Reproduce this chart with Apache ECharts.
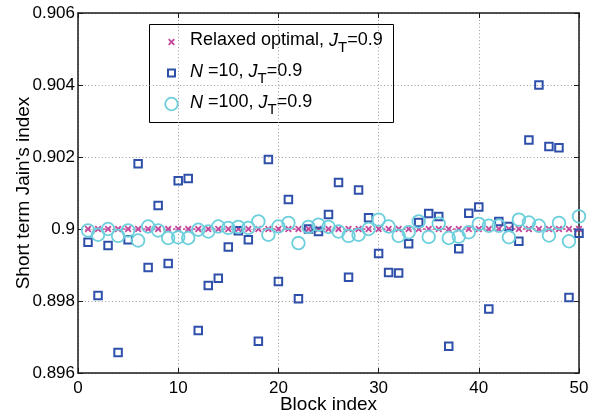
<!DOCTYPE html>
<html>
<head>
<meta charset="utf-8">
<script src="https://cdn.jsdelivr.net/npm/echarts@6/dist/echarts.min.js"></script>
<style>
  html, body { margin: 0; padding: 0; background: #fff; }
  #chart { width: 596px; height: 417px; }
</style>
</head>
<body>
<div id="chart"></div>
<script>
// Block indices on the horizontal axis
const blockIndex = [1, 2, 3, 4, 5, 6, 7, 8, 9, 10,
  11, 12, 13, 14, 15, 16, 17, 18, 19, 20,
  21, 22, 23, 24, 25, 26, 27, 28, 29, 30,
  31, 32, 33, 34, 35, 36, 37, 38, 39, 40,
  41, 42, 43, 44, 45, 46, 47, 48, 49, 50];

// Relaxed optimal short-term Jain's index (target J_T = 0.9)
const relaxedOptimal = [0.9, 0.9, 0.9, 0.9, 0.9, 0.9, 0.9, 0.9, 0.9, 0.9,
  0.9, 0.9, 0.9, 0.9, 0.9, 0.9, 0.9, 0.9, 0.9, 0.9,
  0.9, 0.9, 0.9, 0.9, 0.9, 0.9, 0.9, 0.9, 0.9, 0.9,
  0.9, 0.9, 0.9, 0.9, 0.9, 0.9, 0.9, 0.9, 0.9, 0.9,
  0.9, 0.9, 0.9, 0.9, 0.9, 0.9, 0.9, 0.9, 0.9, 0.9];

// N = 10 users
const jainN10 = [0.89963, 0.89815, 0.89954, 0.89657, 0.89970, 0.90181, 0.89893, 0.90065, 0.89904, 0.90134,
  0.90140, 0.89718, 0.89843, 0.89863, 0.89950, 0.89995, 0.89970, 0.89688, 0.90193, 0.89854,
  0.90082, 0.89806, 0.90000, 0.89993, 0.90040, 0.90129, 0.89866, 0.90108, 0.90031, 0.89932,
  0.89879, 0.89878, 0.89959, 0.90018, 0.90043, 0.90035, 0.89674, 0.89945, 0.90044, 0.90061,
  0.89778, 0.90021, 0.90007, 0.89966, 0.90247, 0.90400, 0.90229, 0.90226, 0.89810, 0.89988];

// N = 100 users
const jainN100 = [0.89996, 0.89984, 0.90000, 0.89981, 0.89996, 0.89968, 0.90007, 0.89996, 0.89975, 0.89977,
  0.89975, 0.89998, 0.89993, 0.90007, 0.90003, 0.90006, 0.90003, 0.90021, 0.89984, 0.90007,
  0.90017, 0.89961, 0.90006, 0.90012, 0.90006, 0.89993, 0.89981, 0.89984, 0.90000, 0.90026,
  0.90007, 0.89981, 0.89991, 0.90021, 0.89978, 0.90015, 0.89975, 0.89979, 0.89991, 0.90014,
  0.90009, 0.90009, 0.89977, 0.90026, 0.90018, 0.90009, 0.89982, 0.90017, 0.89966, 0.90035];

// Axis ticks
const xTicks = [0, 10, 20, 30, 40, 50];
const yTicks = [0.896, 0.898, 0.9, 0.902, 0.904, 0.906];

const FONT = '"Liberation Sans", Arial, Helvetica, sans-serif';
const C_CROSS = '#C2479C';
const C_SQUARE = '#2F50AA';
const C_CIRCLE = '#6BCFDC';
const C_AXIS = '#1a1a1a';

const pairs = (vals) => blockIndex.map((b, i) => [b, vals[i]]);
const trimNum = (v) => String(+(+v).toFixed(3));

const gridLine = { show: true, lineStyle: { color: '#9a9a9a', width: 1, type: [1, 2.4] } };

const xBase = {
  type: 'value', min: xTicks[0], max: xTicks[xTicks.length - 1],
  interval: xTicks[1] - xTicks[0],
  axisLine: { show: true, onZero: false, lineStyle: { color: C_AXIS, width: 1.5 } },
  axisTick: { show: true, inside: true, length: 5, lineStyle: { color: C_AXIS, width: 1 } }
};
const yBase = {
  type: 'value', min: yTicks[0], max: yTicks[yTicks.length - 1],
  interval: +(yTicks[1] - yTicks[0]).toFixed(3),
  axisLine: { show: true, onZero: false, lineStyle: { color: C_AXIS, width: 1.5 } },
  axisTick: { show: true, inside: true, length: 5, lineStyle: { color: C_AXIS, width: 1 } }
};

// Legend rows: rich text with italic symbols and subscript T
const rich = {
  n: { fontFamily: FONT, fontSize: 18, lineHeight: 21, color: '#000', verticalAlign: 'top' },
  i: { fontFamily: FONT, fontSize: 18, lineHeight: 21, color: '#000', fontStyle: 'italic', verticalAlign: 'top' },
  s: { fontFamily: FONT, fontSize: 15, lineHeight: 18, color: '#000', padding: [9, 0, 0, 0], verticalAlign: 'top' }
};
const legendBox = { x: 149.5, y: 24.5, w: 244, h: 98 };
const iconX = 171.5, textX = 190;
const rowY = [42, 73, 104];
const legendTexts = [
  '{n|Relaxed optimal, }{i|J}{s|T}{n|=0.9}',
  '{i|N}{n| =10, }{i|J}{s|T}{n|=0.9}',
  '{i|N}{n| =100, }{i|J}{s|T}{n|=0.9}'
];

const legendGraphic = {
  type: 'group', z: 50,
  children: [
    { type: 'rect', shape: { x: legendBox.x, y: legendBox.y, width: legendBox.w, height: legendBox.h },
      style: { fill: '#fff', stroke: '#000', lineWidth: 1 } },
    { type: 'line', shape: { x1: iconX - 2.8, y1: rowY[0] - 2.8, x2: iconX + 2.8, y2: rowY[0] + 2.8 },
      style: { stroke: C_CROSS, lineWidth: 1.8 } },
    { type: 'line', shape: { x1: iconX - 2.8, y1: rowY[0] + 2.8, x2: iconX + 2.8, y2: rowY[0] - 2.8 },
      style: { stroke: C_CROSS, lineWidth: 1.8 } },
    { type: 'rect', shape: { x: iconX - 3.5, y: rowY[1] - 3.5, width: 7, height: 7 },
      style: { fill: 'none', stroke: C_SQUARE, lineWidth: 2 } },
    { type: 'circle', shape: { cx: iconX, cy: rowY[2], r: 6.3 },
      style: { fill: 'none', stroke: C_CIRCLE, lineWidth: 1.8 } }
  ].concat(legendTexts.map((t, k) => ({
    type: 'text',
    style: { x: textX, y: rowY[k], text: t, rich: rich, verticalAlign: 'middle', align: 'left',
             fontFamily: FONT, fontSize: 18, fill: '#000' }
  })))
};

const chart = echarts.init(document.getElementById('chart'), null, { renderer: 'canvas' });
chart.setOption({
  animation: false,
  backgroundColor: '#fff',
  grid: { left: 78, right: 17, top: 13, bottom: 44, containLabel: false, outerBoundsMode: 'none' },
  xAxis: [
    Object.assign({}, xBase, {
      position: 'bottom',
      name: 'Block index', nameLocation: 'middle', nameGap: 22, nameMoveOverlap: false,
      nameTextStyle: { fontFamily: FONT, fontSize: 19, color: '#000' },
      axisLabel: { show: true, margin: 7, fontFamily: FONT, fontSize: 17, color: '#000' },
      splitLine: gridLine
    }),
    Object.assign({}, xBase, { position: 'top', axisLabel: { show: false }, splitLine: { show: false } })
  ],
  yAxis: [
    Object.assign({}, yBase, {
      position: 'left',
      name: "Short term Jain's index", nameLocation: 'middle', nameGap: 45, nameMoveOverlap: false,
      nameTextStyle: { fontFamily: FONT, fontSize: 19, color: '#000' },
      axisLabel: { show: true, margin: 3, fontFamily: FONT, fontSize: 17, color: '#000', formatter: trimNum },
      splitLine: gridLine
    }),
    Object.assign({}, yBase, { position: 'right', axisLabel: { show: false }, splitLine: { show: false } })
  ],
  series: [
    {
      name: 'Relaxed optimal', type: 'line', data: pairs(relaxedOptimal),
      symbol: 'path://M0,0L10,10M10,0L0,10', symbolSize: 5.6, showSymbol: true,
      lineStyle: { color: C_CROSS, width: 1.5, type: [2.5, 2.5] },
      itemStyle: { color: C_CROSS, borderColor: C_CROSS, borderWidth: 1.8 },
      silent: true, z: 3
    },
    {
      name: 'N=10', type: 'scatter', data: pairs(jainN10),
      symbol: 'rect', symbolSize: 7.5,
      itemStyle: { color: 'rgba(0,0,0,0)', borderColor: C_SQUARE, borderWidth: 2, opacity: 1 },
      silent: true, z: 4
    },
    {
      name: 'N=100', type: 'scatter', data: pairs(jainN100),
      symbol: 'circle', symbolSize: 12.6,
      itemStyle: { color: 'rgba(0,0,0,0)', borderColor: C_CIRCLE, borderWidth: 1.8, opacity: 1 },
      silent: true, z: 5
    }
  ],
  graphic: [legendGraphic]
});
</script>
</body>
</html>
